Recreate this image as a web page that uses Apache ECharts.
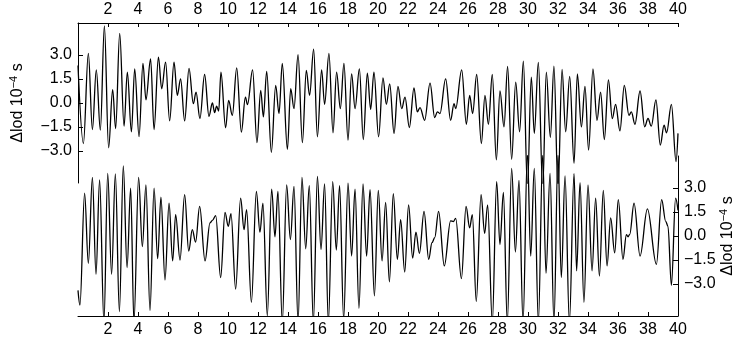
<!DOCTYPE html>
<html>
<head>
<meta charset="utf-8">
<script src="https://cdn.jsdelivr.net/npm/echarts@6/dist/echarts.min.js"></script>
<style>
  html, body { margin: 0; padding: 0; background: #fff; }
  #lod { width: 740px; height: 343px; }
</style>
</head>
<body>
<div id="lod"></div>
<script>
  // upper trace, turning points
  var topT = [0, 0.36, 0.69, 0.96, 1.22, 1.49, 1.76, 2.04, 2.31, 2.51, 2.78, 3.07, 3.29, 3.56, 3.78, 4.07, 4.33, 4.53, 4.84, 5.07,
    5.36, 5.58, 5.84, 6.11, 6.4, 6.62, 6.84, 7.11, 7.4, 7.69, 7.87, 8.13, 8.44, 8.73, 8.96, 9.11, 9.24, 9.38, 9.53, 9.84,
    10.04, 10.29, 10.58, 10.89, 11.16, 11.3, 11.64, 11.93, 12.18, 12.36, 12.58, 12.89, 13.18, 13.4, 13.62, 13.96, 14.18, 14.4, 14.67, 14.96,
    15.22, 15.44, 15.71, 15.96, 16.24, 16.44, 16.73, 17.0, 17.24, 17.49, 17.73, 18.0, 18.24, 18.47, 18.76, 19.02, 19.29, 19.51, 19.73, 20.04,
    20.33, 20.56, 20.78, 21.07, 21.33, 21.58, 21.8, 22.09, 22.4, 22.62, 22.8, 23.11, 23.47, 23.78, 23.96, 24.13, 24.51, 24.84, 25.07, 25.18,
    25.58, 25.89, 26.11, 26.31, 26.58, 26.89, 27.13, 27.36, 27.62, 27.89, 28.13, 28.4, 28.64, 28.91, 29.18, 29.44, 29.69, 29.96, 30.22, 30.42,
    30.69, 30.98, 31.22, 31.49, 31.73, 32.0, 32.27, 32.51, 32.78, 33.07, 33.29, 33.56, 33.8, 34.04, 34.33, 34.6, 34.84, 35.09, 35.36, 35.62,
    35.84, 36.13, 36.42, 36.73, 36.89, 37.13, 37.47, 37.78, 38.0, 38.22, 38.53, 38.82, 39.07, 39.24, 39.56, 39.87, 40]
  var topLod = [2.34, -2.53, 3.1, -1.66, 2.07, -1.7, 4.82, -2.8, 0.83, -1.6, 4.35, -1.45, 1.93, -1.8, 2.13, -2.1, 2.48, 0.2, 2.75, -1.66,
    2.86, 0.89, 2.55, -1.12, 2.55, 0.48, 1.5, -1.12, 2.17, -0.04, 0.68, -0.97, 1.78, -0.83, 0.0, -0.6, -0.2, -0.5, 1.93, -1.55,
    0.17, -0.77, 2.19, -1.82, 0.37, -0.1, 2.07, -2.48, 0.79, -0.87, 1.97, -3.08, 1.1, -0.66, 2.48, -2.9, 0.89, -0.35, 3.02, -2.48,
    2.03, 0.48, 3.37, -2.11, 2.07, -0.08, 3.1, -1.86, 1.93, -0.35, 2.48, -2.32, 1.82, -0.35, 2.13, -2.28, 1.86, -0.4, 1.93, -2.11,
    1.57, -0.08, 1.2, -1.9, 1.04, -0.35, 0.37, -1.53, 0.95, -0.56, -0.29, -1.08, 1.24, -0.91, -0.55, -0.66, 1.51, -1.08, -0.04, -0.35,
    2.07, -1.33, 0.48, -0.66, 1.78, -2.53, 0.48, -1.33, 1.78, -3.56, 0.75, -1.49, 2.28, -3.52, 1.3, -1.8, 2.61, -5.3, 1.61, -1.9,
    2.53, -5.4, 1.93, -2.15, 2.3, -5.4, 2.1, -1.8, 1.66, -3.77, 1.82, -1.49, 1.04, -2.94, 2.13, -1.08, 0.68, -2.28, 1.45, -0.97,
    -0.08, -1.74, 1.1, -0.77, -0.56, -1.33, 0.75, -1.49, -0.97, -1.45, 0.2, -2.63, -1.39, -1.86, -0.08, -3.66, -1.9]

  // lower trace
  var botT = [0, 0.13, 0.44, 0.69, 0.96, 1.2, 1.44, 1.73, 1.98, 2.24, 2.49, 2.76, 3.02, 3.27, 3.51, 3.73, 4.04, 4.29, 4.53, 4.8,
    5.07, 5.31, 5.53, 5.8, 6.07, 6.31, 6.51, 6.8, 7.11, 7.38, 7.62, 7.84, 8.11, 8.47, 8.8, 8.96, 9.18, 9.51, 9.8, 10.02,
    10.2, 10.51, 10.84, 11.07, 11.24, 11.56, 11.89, 12.13, 12.33, 12.62, 12.91, 13.13, 13.33, 13.62, 13.91, 14.16, 14.4, 14.67, 14.93, 15.18,
    15.42, 15.69, 15.96, 16.2, 16.44, 16.69, 16.98, 17.22, 17.44, 17.71, 18.0, 18.24, 18.47, 18.73, 19.0, 19.24, 19.47, 19.76, 20.02, 20.27,
    20.51, 20.76, 21.02, 21.29, 21.51, 21.78, 22.04, 22.31, 22.53, 22.76, 23.07, 23.38, 23.6, 23.78, 24.04, 24.42, 24.84, 25.02, 25.18, 25.56,
    25.87, 26.11, 26.29, 26.55, 26.87, 27.11, 27.31, 27.62, 27.91, 28.13, 28.36, 28.62, 28.91, 29.16, 29.4, 29.67, 29.96, 30.18, 30.42, 30.69,
    30.98, 31.2, 31.47, 31.73, 32.0, 32.22, 32.47, 32.76, 33.07, 33.24, 33.47, 33.73, 34.0, 34.27, 34.51, 34.76, 35.02, 35.27, 35.51, 35.78,
    36.02, 36.33, 36.56, 36.67, 36.78, 37.07, 37.47, 37.96, 38.56, 38.91, 39.18, 39.33, 39.56, 39.84, 40]
  var botLod = [-3.4, -4.32, 2.68, -1.71, 3.67, -2.39, 3.5, -5.4, 3.92, -2.39, 3.88, -4.73, 4.38, -1.98, 2.99, -5.4, 3.67, -0.67, 3.2, -4.67,
    2.99, -1.42, 2.43, -2.75, 2.06, -1.56, 1.34, -1.5, 2.58, -0.94, 0.4, -0.38, 1.85, -1.56, 0.82, 0.98, 1.27, -2.6, 1.48, 0.61,
    1.4, -3.32, 2.37, 0.4, 1.65, -4.15, 2.78, 0.24, 2.06, -4.98, 2.93, -0.05, 2.78, -5.4, 3.2, -0.22, 3.1, -5.4, 3.67, -0.8,
    3.14, -5.4, 3.72, -0.84, 3.26, -5.4, 3.4, -0.88, 3.14, -5.2, 3.3, -1.25, 2.93, -4.52, 3.26, -1.25, 2.89, -3.74, 2.85, -1.56,
    2.1, -2.87, 2.64, -1.46, 1.02, -2.25, 1.95, -1.38, 0.24, -1.09, 1.54, -1.46, -0.42, -0.11, 1.54, -1.87, 0.95, 0.9, 1.1, -2.66,
    1.85, 0.51, 1.34, -4.1, 2.58, 0.16, 1.95, -5.4, 3.4, -0.53, 2.72, -5.4, 4.23, -1.0, 3.47, -5.4, 5.2, -1.25, 4.23, -5.4,
    5.1, -2.33, 3.92, -5.4, 5.1, -2.6, 3.76, -5.4, 3.9, -2.18, 3.34, -4.15, 3.2, -2.18, 2.37, -2.5, 2.85, -1.87, 1.13, -1.05,
    2.27, -1.46, 0.09, -0.05, 0.1, 2.06, -1.25, 1.69, -1.77, 2.27, 0.92, 0.61, -3.08, 2.37, 1.6]

  var timeTicks = [2, 4, 6, 8, 10, 12, 14, 16, 18, 20, 22, 24, 26, 28, 30, 32, 34, 36, 38, 40]
  var lodTicks = [-3, -1.5, 0, 1.5, 3]

  var font = "'Liberation Sans', Arial, sans-serif"

  function pairs(xs, ys) {
    var out = []
    for (var i = 0; i < xs.length; i++) out.push([xs[i], ys[i]])
    return out
  }

  function lodLabel(v) {
    return v.toFixed(1).replace('-', '\u2212')
  }

  function timeAxis(idx, pos, margin) {
    return {
      type: 'value',
      gridIndex: idx,
      position: pos,
      min: 0,
      max: 40,
      axisLine: { show: true, onZero: false, lineStyle: { color: '#000', width: 1 } },
      axisTick: { show: true, inside: true, length: 4, customValues: timeTicks, lineStyle: { color: '#000' } },
      axisLabel: { color: '#000', fontSize: 16, fontFamily: font, margin: margin, customValues: timeTicks },
      splitLine: { show: false }
    }
  }

  function lodAxis(idx, pos, gap) {
    return {
      type: 'value',
      gridIndex: idx,
      position: pos,
      min: -5,
      max: 5,
      name: '{n|\u0394lod 10}{s|\u22124}{n| s}',
      nameLocation: 'middle',
      nameRotate: 90,
      nameGap: gap,
      nameMoveOverlap: false,
      nameTextStyle: {
        color: '#000',
        rich: {
          n: { fontSize: 16, fontFamily: font, color: '#000', lineHeight: 20 },
          s: { fontSize: 11, fontFamily: font, color: '#000', lineHeight: 20, verticalAlign: 'top' }
        }
      },
      axisLine: { show: true, onZero: false, lineStyle: { color: '#000', width: 1 } },
      axisTick: { show: true, inside: true, length: 5, customValues: lodTicks, lineStyle: { color: '#000' } },
      axisLabel: { color: '#000', fontSize: 16, fontFamily: font, margin: 6, customValues: lodTicks, formatter: lodLabel },
      splitLine: { show: false }
    }
  }

  function trace(idx, data) {
    return {
      type: 'line',
      xAxisIndex: idx,
      yAxisIndex: idx,
      data: data,
      showSymbol: false,
      smooth: 0.36,
      smoothMonotone: 'x',
      clip: true,
      animation: false,
      lineStyle: { color: '#000', width: 1.3 }
    }
  }

  var chart = echarts.init(document.getElementById('lod'))
  chart.setOption({
    animation: false,
    backgroundColor: '#fff',
    grid: [
      { left: 78, top: 23, width: 600, height: 160, outerBoundsMode: 'none' },
      { left: 78, top: 156, width: 600, height: 160, outerBoundsMode: 'none' }
    ],
    xAxis: [timeAxis(0, 'top', 5), timeAxis(1, 'bottom', 6)],
    yAxis: [lodAxis(0, 'left', 50), lodAxis(1, 'right', 40)],
    series: [trace(0, pairs(topT, topLod)), trace(1, pairs(botT, botLod))]
  })
</script>
</body>
</html>
